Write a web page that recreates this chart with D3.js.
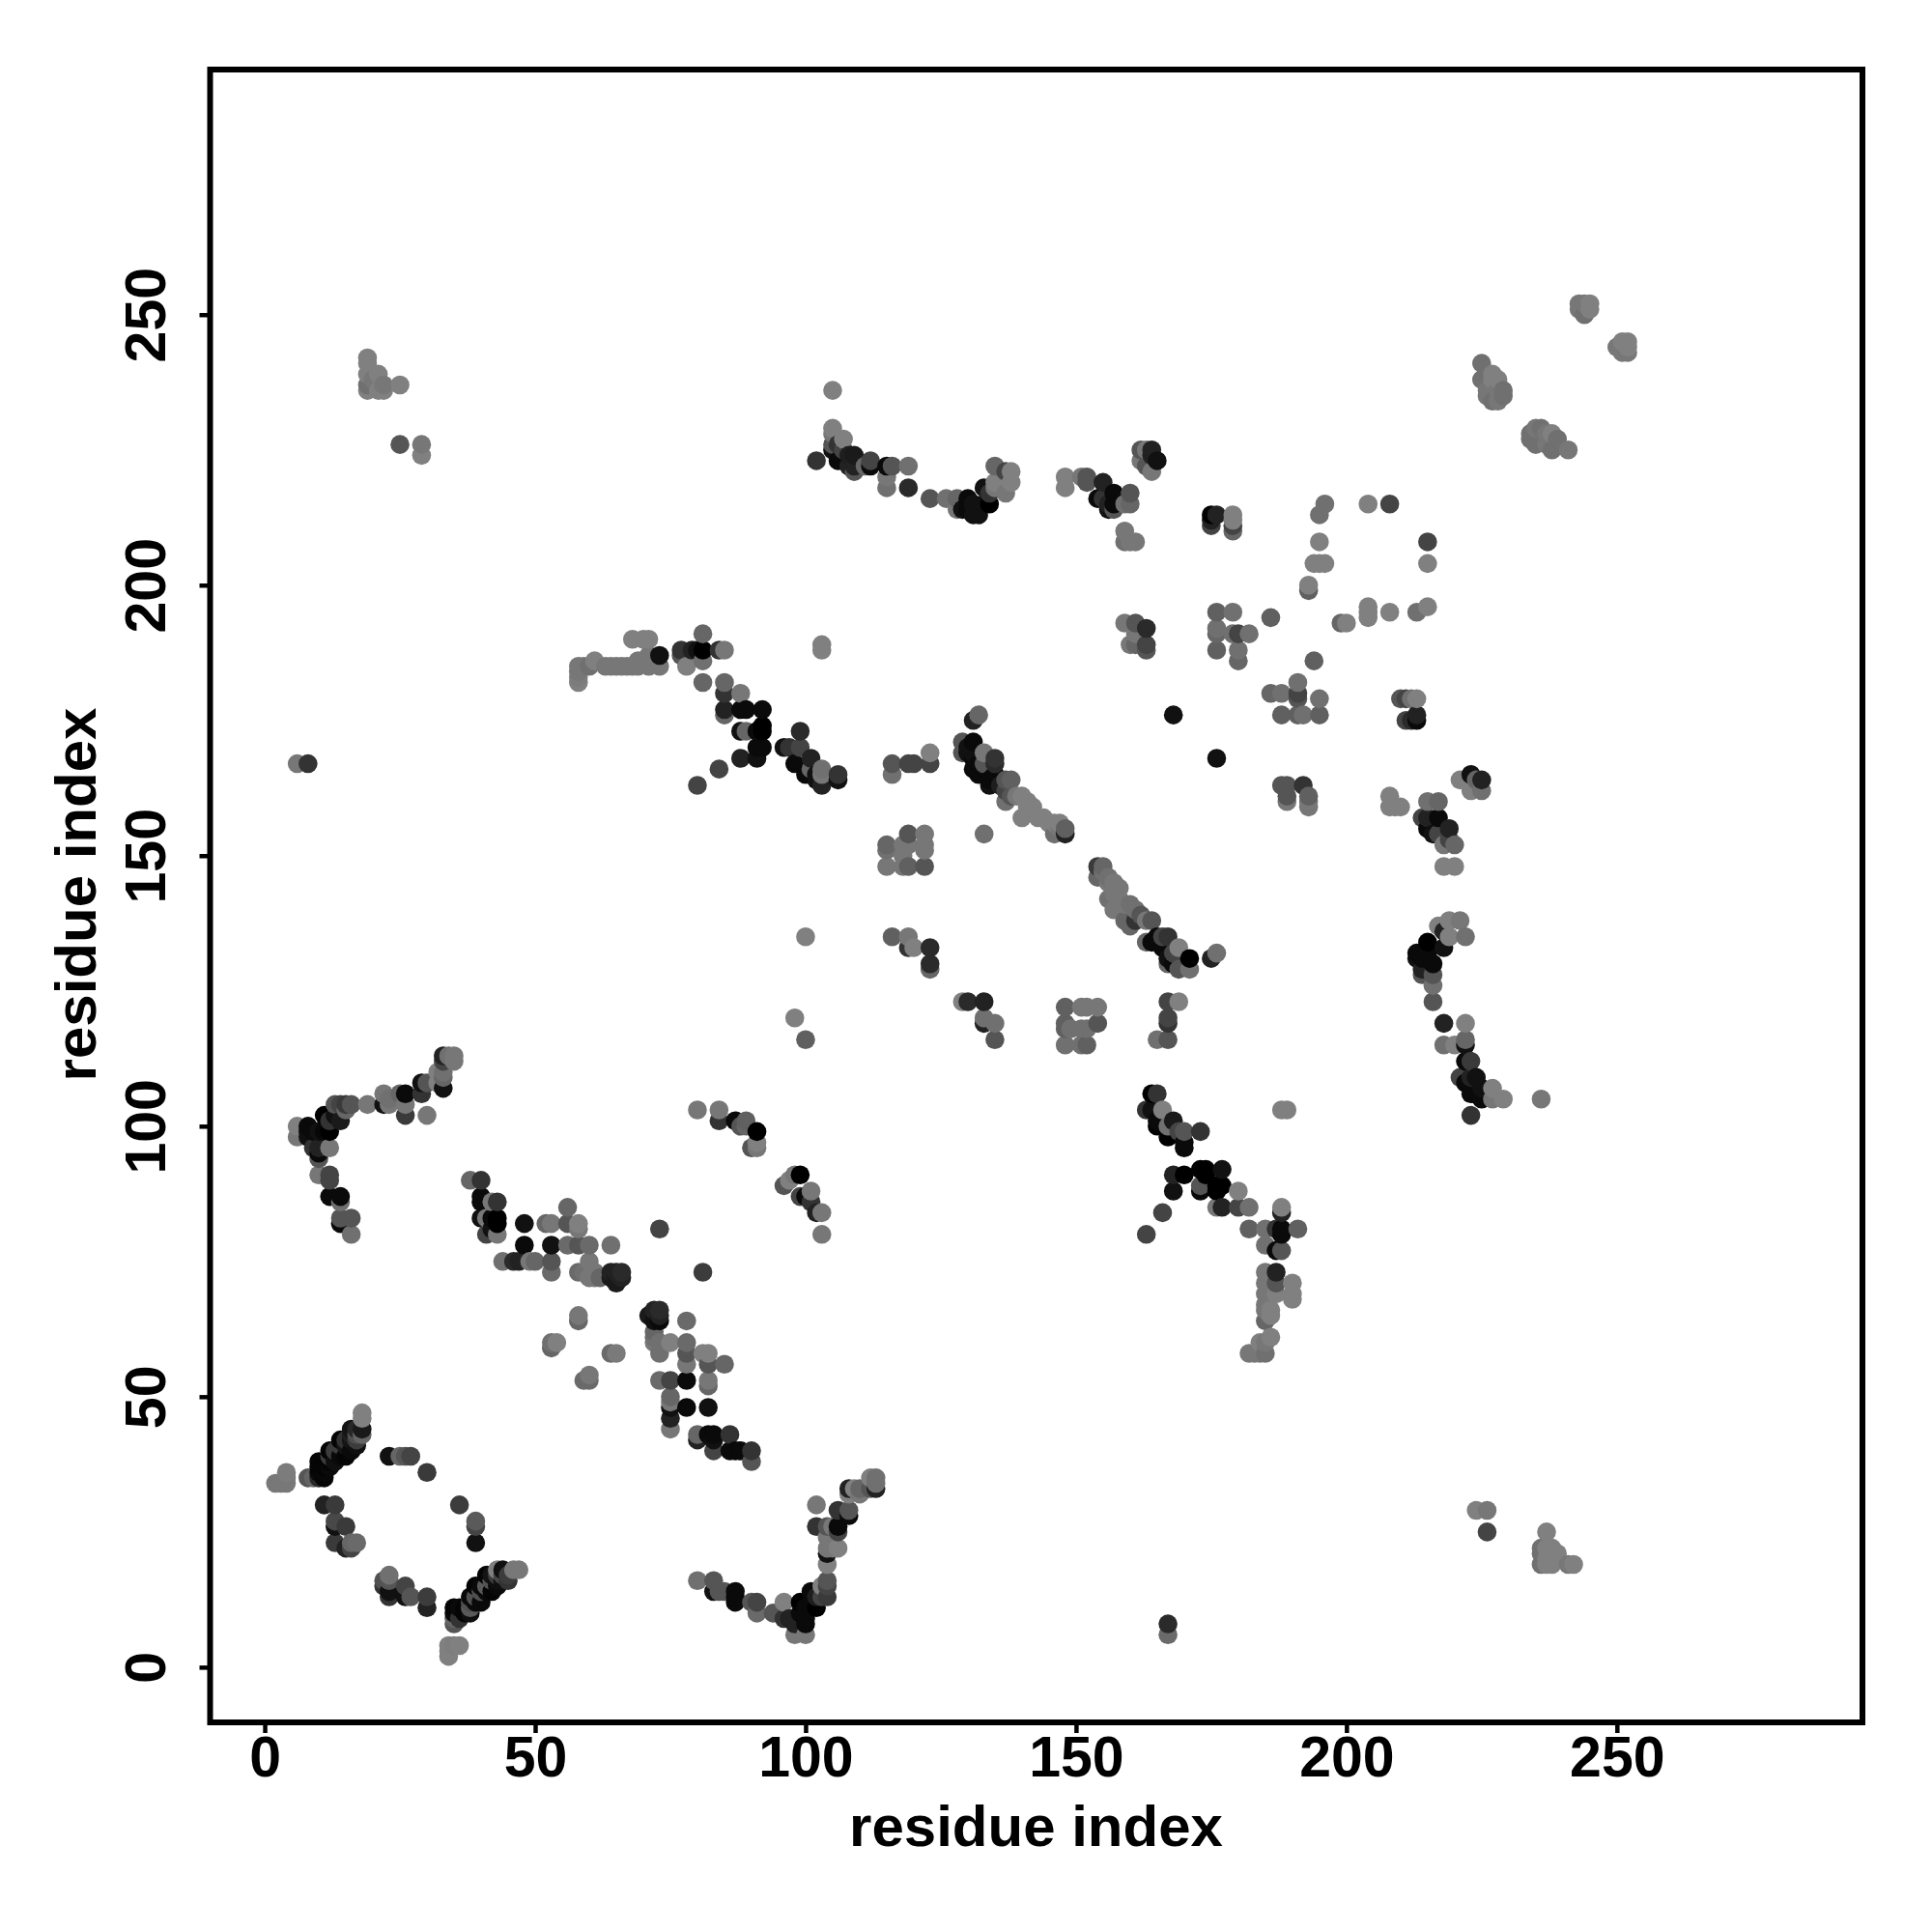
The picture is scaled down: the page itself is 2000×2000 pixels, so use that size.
<!DOCTYPE html>
<html><head><meta charset="utf-8">
<script src="https://cdn.jsdelivr.net/npm/d3@7/dist/d3.min.js"></script>
<style>html,body{margin:0;padding:0;background:#fff}svg{display:block}</style>
</head><body><svg id="c" width="2000" height="2000"></svg>
<script>
// each contact: [residue x, residue y, grey level 0-128]
const ringLowerLeft = [[3,34,120],[4,34,120],[2,34,120],[4,35,120],[4,36,124],
[8,35,85],[9,35,100],[10,35,40],[11,35,5],[10,36,10],[11,36,8],[10,37,5],[11,37,5],[10,38,5],[12,37,10],[12,38,5],[13,38,15],[12,39,60],[12,40,5],[13,40,60],[14,39,10],[15,39,5],[14,41,60],[14,42,5],[15,41,20],[16,40,10],[15,42,50],[16,42,20],[17,41,15],[16,43,30],[16,44,20],[17,42,60],[17,43,80],[17,44,40],[18,44,25],[18,43,100],[18,46,128],[18,47,128],
[23,39,17],[25,39,102],[26,39,85],[27,39,68],[30,36,58],
[11,30,34],[13,30,58],[13,27,72],[13,26,17],[15,26,58],[13,23,58],[15,22,34],[16,22,68],[16,23,102],[17,23,106],
[36,30,60],[39,27,90],[39,26,68],[39,23,17],
[22,16,80],[23,17,112],[23,16,85],[22,15,51],[23,14,17],[23,13,51],[26,15,68],[26,13,17],[27,13,85],[30,13,60],[30,11,34]];
const armLowerLeft = [[35,8,85],[35,9,100],[36,9,51],[35,10,10],[35,11,5],[36,11,10],[37,10,5],[37,11,5],[38,10,15],[38,11,90],[38,12,80],[38,13,10],[39,12,10],[40,12,10],[39,13,80],[39,15,5],[40,14,80],[41,14,10],[42,14,5],[40,15,10],[41,15,90],[41,17,5],[42,16,85],[43,15,10],[43,16,15],[44,16,15],[42,17,20],[43,17,60],[43,18,128],[44,17,70],[44,18,15],[45,16,51],[45,17,60],[46,18,120],[47,18,120],
[34,2,128],[34,3,128],[34,4,128],[36,4,128],[35,4,125]];
const centreLow = [[58,65,119],[58,64,102],[53,59,102],[53,60,112],[54,60,128],[64,58,106],[65,58,122],[59,53,106],[60,54,119],[60,53,106],
[71,65,26],[72,66,34],[73,66,42],[73,65,34],[73,64,10],[72,64,17],[72,62,102],[72,61,112],[72,60,119],[73,60,112],[73,58,112],[75,60,128],[78,64,106],[78,60,106],[78,58,85],[78,56,119],[81,58,128],[82,58,128],[82,56,85],[85,56,102],
[73,53,106],[75,53,68],[78,53,10],[82,53,119],[82,52,102],[75,50,102],[75,49,119],[75,48,17],[75,46,34],[75,44,119],[78,48,10],[82,48,17],
[80,43,102],[80,42,34],[82,43,10],[83,43,10],[83,42,17],[83,40,68],[86,43,51],[86,40,10],[87,40,10],[88,40,10],[90,40,51],[90,38,85]];
const rowNear80 = [[44,75,112],[46,75,42],[47,75,34],[49,75,119],[50,75,102],[53,75,85],[60,75,119],[48,78,10],[53,78,17],[56,78,106],[58,78,85],[60,78,106],[64,78,112],
[53,73,106],[58,73,106],[60,72,119],[59,73,112],[61,73,119],[61,72,119],[62,72,102],[64,73,34],[65,73,34],[66,73,42],[64,72,26],[65,72,26],[66,72,34],[65,71,26],
[73,81,68],[81,73,60]];
const bottomArc = [[80,16,112],[83,16,85],[83,14,17],[84,14,85],[85,14,85],[87,14,10],[87,12,10],[87,13,10],[90,12,85],[91,12,68],[91,10,106],[94,10,85],[96,12,128],[96,9,51],[97,9,34],[98,8,34],[98,6,119],[100,6,119],[99,10,10],[99,12,0],[100,8,10],[100,9,10],[100,11,10],[101,12,10],[101,14,10],[102,11,0],[102,13,30],[103,13,68],[103,15,128],[104,13,58],[104,15,68],[104,16,85],
[104,19,128],[104,21,17],[104,22,119],[105,22,119],[106,22,128],[104,24,119],[104,26,85],[105,26,119],[102,26,51],[102,30,119],[106,26,10],[106,25,68],[106,29,51],[108,29,85],[108,28,10],
[108,33,34],[108,32,128],[109,33,128],[110,33,102],[110,32,119],[112,33,85],[113,33,34],[113,34,112],[112,35,128],[113,35,112],[167,8,42],[167,6,106]];
const arcNear100 = [[6,100,128],[6,98,119],[8,100,10],[8,98,17],[8,99,15],[9,96,51],[10,96,34],[10,95,10],[10,94,85],[12,96,119],[10,91,119],[12,91,68],[12,90,68],[12,87,10],[14,87,10],[14,86,112],[14,83,85],[16,83,85],[14,82,10],[16,80,112],
[9,99,10],[10,99,17],[11,99,8],[12,99,0],[11,102,0],[12,101,51],[14,101,26],[13,102,17],[13,104,85],[14,104,68],[15,104,58],[15,103,102],[16,104,85],[19,104,119],
[22,106,119],[22,104,17],[23,104,119],[23,105,112],[25,106,102],[26,106,10],[26,104,119],[26,102,58],[30,102,119],[29,108,17],[29,106,51],[30,108,85],
[32,110,128],[33,110,112],[32,108,128],[33,107,17],[33,109,102],[33,113,34],[33,112,68],[34,113,112],[35,113,119],[35,112,119]];
const middleLeft = [[38,90,102],[40,90,51],[40,87,10],[40,86,10],[40,83,17],[42,86,119],[43,86,51],[41,83,119],[42,83,10],[43,83,0],[43,82,0],[42,81,17],[41,80,68],[43,80,119],
[48,82,17],[52,82,102],[53,82,119],[56,85,102],[56,82,85],[58,82,128],[58,81,119],
[80,103,119],[84,103,119],[84,101,51],[87,101,10],[88,100,85],[89,101,96],[89,100,102],[91,99,0],[90,96,85],[91,97,128],[91,96,119],
[96,89,85],[97,90,128],[98,91,119],[99,91,0],[99,87,68],[100,87,10],[101,88,119],[101,86,51],[102,84,34],[103,84,119],[103,80,119],
[6,167,119],[8,167,51],[80,163,68],[84,166,68]];
const topLeft = [[19,242,128],[19,241,128],[19,239,128],[19,237,112],[19,236,128],[20,238,119],[21,239,128],[21,236,128],[22,237,119],[22,236,128],[25,237,128],[25,226,85],[29,226,119],[29,224,128]];
const bandNear185 = [[58,182,128],[58,183,124],[58,184,119],[58,185,119],[59,185,119],[60,185,112],[61,186,128],[63,185,119],[64,185,119],[65,185,119],[66,185,119],[67,185,119],[68,185,119],[69,186,119],[69,185,119],[68,190,128],[70,190,128],[71,190,128],[71,185,119],[71,187,119],[73,185,119],[73,187,17],
[77,188,51],[77,187,85],[78,185,128],[79,188,34],[80,188,17],[81,191,102],[81,188,0],[81,186,112],[81,182,102],[84,188,51],[85,188,119],[85,182,102],[85,180,51],[88,180,119],[85,177,34],[85,176,102],
[88,177,10],[89,177,10],[92,177,10],[88,173,17],[89,173,102],[91,173,10],[92,174,0],[92,173,0],[91,170,10],[92,170,10],[88,168,34],[91,168,17],
[96,170,17],[97,170,51],[98,167,10],[99,173,42],[99,170,68],[100,165,10],[101,168,34],[101,166,102],[102,165,17],[102,164,17],[103,166,112],[103,163,34],[103,165,119],[106,165,51],[106,164,17]];
const gridNear150 = [[116,167,85],[116,165,112],[119,167,68],[120,167,68],[123,167,68],[123,169,128],
[115,152,102],[115,151,112],[115,148,119],[119,154,85],[122,154,119],[122,152,119],[122,151,119],[122,148,85],[118,148,119],[119,148,96],[118,150,119],[118,152,119],[119,152,119],[133,154,112],
[100,135,128],[116,135,96],[119,135,119],[119,133,51],[120,133,128],[123,133,42],[123,130,42],[123,129,102],
[98,120,128],[100,116,96],[129,123,128],[130,123,42],[133,123,34],[133,120,112],[133,119,34],[135,119,112],[135,116,85],
[148,122,96],[151,122,119],[152,122,119],[154,122,119],[154,119,85],[148,119,96],[148,118,96],[149,118,112],[151,118,112],[152,118,112],[148,115,112],[151,115,112],[152,115,96],
[167,123,68],[169,123,128],[167,120,68],[167,119,51],[165,116,112],[167,116,85],[103,189,128],[103,188,128]];
const mainDiagonal = [[131,175,34],[132,176,102],[129,171,85],[129,169,85],[130,170,17],[130,169,17],[131,171,10],[131,169,17],[131,168,10],[132,167,10],[133,169,119],[133,167,85],[131,166,10],[132,165,10],[133,166,10],[134,164,10],[134,163,17],[135,168,51],[135,167,42],[135,165,10],[136,163,30],
[137,164,85],[138,164,96],[137,162,68],[137,160,112],[138,161,85],[139,161,119],[140,161,128],[141,160,128],[141,159,128],[142,159,128],[140,157,128],[142,158,128],[143,157,128],[144,157,128],[145,156,128],[146,156,128],[147,156,128],[146,154,112],[147,155,119],[148,155,96],[148,154,34],
[154,148,58],[155,148,102],[155,147,112],[154,146,102],[156,146,112],[156,145,119],[157,145,119],[157,143,119],[158,144,119],[156,142,112],[158,142,119],[157,140,119],[159,141,119],[160,141,112],[161,140,112],[159,138,102],[160,137,102],[161,138,51],[162,139,85],[163,138,119],[164,138,85],[163,134,102],[164,134,10],[165,135,10],[166,135,68],[167,135,51],[166,133,10],[167,131,17],[167,130,102],[168,132,68],[168,130,10],[169,133,128],[169,129,85],[171,131,0],[171,129,112],[175,131,34],[176,132,112]];
const upperCurve = [[105,236,128],[105,229,128],[105,228,119],[105,226,85],[105,225,17],[106,226,51],[107,227,128],[106,223,10],[107,225,68],[108,224,30],[109,224,26],[109,221,85],[108,222,34],[109,222,34],[102,223,51],[112,223,68],[112,222,10],[111,222,102],[115,222,10],[116,222,85],[119,222,112],[115,220,119],[115,218,112],[119,218,42],
[123,216,85],[126,216,112],[128,216,102],[128,214,119],[129,214,17],[130,216,10],[130,214,10],[131,215,17],[131,213,17],[132,213,17],[133,215,17],[134,215,0],[133,218,17],[134,217,51],[135,222,102],[135,219,128],[135,218,119],[137,217,119],[137,221,68],[138,221,128],[138,219,128],
[148,220,128],[148,218,128],[151,220,119],[152,220,85],[152,219,85],[155,219,34],[154,216,10],[157,217,10],[156,214,17],[157,215,10],[160,217,85],[159,215,112],[160,215,102],[157,214,85],[155,216,51],[156,215,34],
[159,210,119],[159,208,112],[160,208,119],[161,208,119],[162,225,85],[163,225,119],[164,225,34],[162,223,119],[164,224,34],[165,223,17],[164,221,119],[163,222,85]];
const blockNear190 = [[159,193,119],[161,193,85],[163,192,42],[160,189,119],[161,189,102],[163,189,68],[163,188,85],[161,191,119],[168,176,17],[176,168,17],
[175,213,0],[176,213,34],[175,212,34],[175,211,68],[179,213,128],[179,212,128],[179,211,68],[179,210,102],
[176,195,96],[179,195,112],[176,192,112],[176,191,102],[179,191,112],[180,191,68],[182,191,112],[176,188,96],[180,188,112],[180,186,102],[186,194,96],[194,186,96],
[186,180,102],[188,180,112],[191,182,112],[191,180,68],[191,179,85],[195,179,112],[188,176,96],[191,176,96],[192,176,112],[195,176,96],
[196,215,112],[195,213,112],[204,215,128],[208,215,68],[195,208,128],[194,204,128],[195,204,128],[196,204,128],[193,200,128],[193,199,96],[215,208,68],[215,204,128],[215,196,128],[213,195,112],[208,195,128],[204,196,128],[204,195,128],[204,194,128],[199,193,102],[200,193,128],
[210,179,85],[211,179,68],[212,179,112],[213,179,128],[211,175,68],[212,175,42],[213,176,34],[213,175,10]];
const rightArc = [[188,163,85],[189,163,85],[192,163,51],[189,161,85],[189,160,119],[193,161,96],[193,160,119],[193,159,119],[208,161,128],[208,159,128],[209,159,128],[210,159,128],
[215,160,112],[217,160,102],[214,157,68],[215,157,34],[217,157,10],[216,154,17],[219,155,34],[218,152,119],[220,152,102],[218,148,128],[220,148,128],[215,155,10],[217,154,68],[219,153,68],
[221,164,128],[223,165,17],[224,164,102],[225,164,34],[223,162,128],[225,162,112],
[213,132,10],[213,131,17],[214,129,34],[214,128,85],[216,128,85],[216,126,112],[216,123,85],[218,119,34],[222,119,128],[218,115,112],[220,115,128],[222,116,102],[222,115,17],[222,112,10],[223,112,58],[221,109,68],[223,109,34],[224,109,17],[222,108,10],[223,106,10],[225,107,17],[227,107,128],[225,105,10],[227,105,119],[229,105,128],[236,105,119],[223,102,51],
[221,138,119],[219,138,128],[217,137,128],[219,135,128],[222,135,112],[215,134,0],[218,133,17],[215,132,10],[216,130,10],[214,131,10],[218,136,34],[188,103,128],[189,103,128]];
const lowerMiddle = [[164,106,0],[165,106,51],[163,103,51],[164,103,17],[166,103,128],[165,101,10],[167,100,112],[168,101,26],[165,100,0],[167,98,0],[170,99,85],[169,99,68],[170,96,10],[173,99,51],[170,97,10],
[168,91,34],[170,91,0],[173,92,0],[174,92,0],[174,91,0],[177,92,17],[168,88,17],[173,89,85],[173,88,10],[177,89,0],[176,89,0],[176,88,0],[180,88,128],[176,85,119],[177,85,34],[180,85,68],[182,85,112],[166,84,68],[163,80,68],
[188,85,128],[188,84,34],[182,81,96],[185,81,112],[187,81,51],[188,81,10],[191,81,96],[188,80,10],[185,78,112],[187,77,10],[188,77,85],
[185,73,119],[187,73,34],[185,71,119],[187,71,85],[190,71,128],[185,69,119],[187,69,128],[190,69,128],[190,68,128],[185,67,119],[185,66,119],[186,66,128],[185,64,102],[186,65,128],[186,61,128],[185,60,119],[184,60,128],[182,58,119],[183,58,119],[184,58,119],[185,58,112]];
const farRight = [[224,29,128],[226,29,119],[226,25,68],[237,25,128],[236,22,112],[236,21,112],[236,19,112],[237,22,128],[238,22,128],[239,21,128],[238,19,128],[237,19,128],[237,20,128],[241,19,119],[242,19,128],
[243,252,119],[243,251,119],[244,250,112],[244,252,119],[245,252,128],[245,251,128],[250,244,119],[252,245,128],[252,243,119],[251,243,119],[251,245,128],[252,244,128],
[225,241,112],[225,238,112],[227,239,128],[227,238,128],[228,238,128],[226,236,119],[226,235,119],[227,234,112],[228,234,119],[229,236,112],[229,235,112],[228,236,119],
[234,228,112],[234,227,112],[235,229,119],[236,229,112],[235,226,112],[237,228,119],[238,225,112],[238,228,128],[239,227,112],[241,225,119],[237,226,119]];
const tickValues = [0,50,100,150,200,250];
const axisTitle = "residue index";

const contacts = [].concat(ringLowerLeft,armLowerLeft,centreLow,rowNear80,bottomArc,arcNear100,middleLeft,topLeft,bandNear185,gridNear150,mainDiagonal,upperCurve,blockNear190,rightArc,lowerMiddle,farRight)
  .map(([x,y,g])=>({x,y,g})).sort((a,b)=>a.x-b.x||a.y-b.y);

const F = {l:217.5,r:1928,t:72,b:1783};
const x = d3.scaleLinear().domain([-10.1,295.4]).range([F.l,F.r]);
const y = d3.scaleLinear().domain([-10.2,295.3]).range([F.b,F.t]);
const svg = d3.select("#c");
const font = "'Liberation Sans',Arial,Helvetica,sans-serif";
svg.append("rect").attr("width",2000).attr("height",2000).attr("fill","#fff");
svg.append("g").selectAll("circle").data(contacts).join("circle")
  .attr("cx",d=>x(d.x)).attr("cy",d=>y(d.y)).attr("r",9.8)
  .attr("fill",d=>d3.rgb(d.g,d.g,d.g));
svg.append("rect").attr("x",F.l).attr("y",F.t).attr("width",F.r-F.l).attr("height",F.b-F.t)
  .attr("fill","none").attr("stroke","#000").attr("stroke-width",6);
const gx = svg.append("g").attr("transform",`translate(0,${F.b})`)
  .call(d3.axisBottom(x).tickValues(tickValues).tickSize(11).tickPadding(14));
const gy = svg.append("g").attr("transform",`translate(${F.l},0)`)
  .call(d3.axisLeft(y).tickValues(tickValues).tickSize(11).tickPadding(0));
[gx,gy].forEach(g=>{g.select(".domain").remove();
  g.selectAll("line").attr("stroke","#000").attr("stroke-width",4.5);
  g.selectAll("text").attr("fill","#000").style("font-family",font).style("font-weight","bold").style("font-size","59px");});
gx.selectAll("text").attr("transform",null).attr("y",1838.6-F.b).attr("dy",0);
gy.selectAll("text").attr("x",null).attr("dy",0).attr("text-anchor","middle")
  .attr("transform",`translate(${171-F.l},0) rotate(-90)`);
svg.append("text").attr("x",1072.5).attr("y",1911).attr("text-anchor","middle")
  .style("font-family",font).style("font-weight","bold").style("font-size","60px").text(axisTitle);
svg.append("text").attr("transform","translate(99,926) rotate(-90)").attr("text-anchor","middle")
  .style("font-family",font).style("font-weight","bold").style("font-size","60px").text(axisTitle);
</script></body></html>
